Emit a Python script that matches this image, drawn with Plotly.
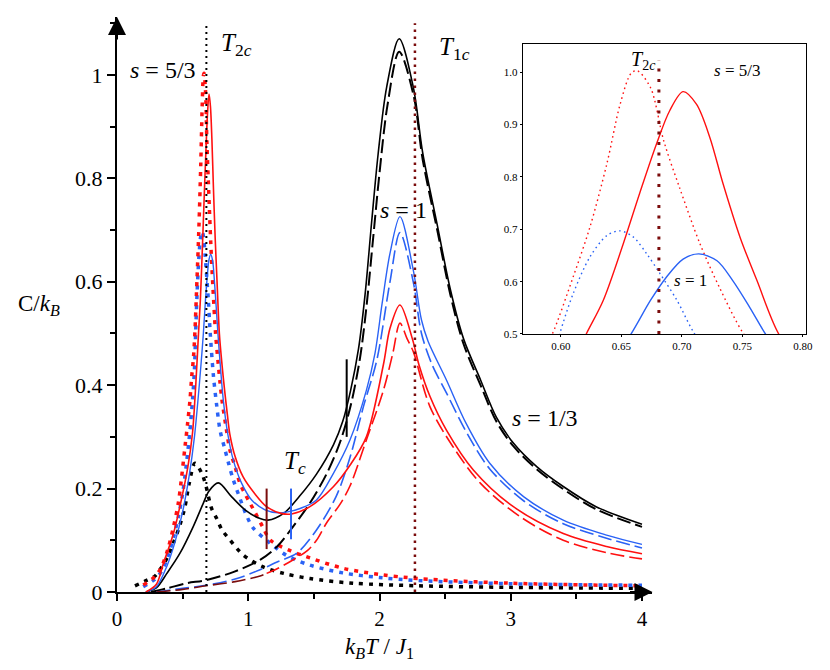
import plotly.graph_objects as go

# ---- data ----
# s = 1/3 (black)
black_solid_x = [0.22, 0.30, 0.38, 0.48, 0.58, 0.658, 0.70, 0.772, 0.874, 0.975, 1.09, 1.15, 1.27, 1.39,
                 1.52, 1.65, 1.72, 1.78, 1.84, 1.89, 1.94, 1.99, 2.055, 2.15, 2.257, 2.33, 2.44, 2.54,
                 2.64, 2.77, 2.89, 3.02, 3.20, 3.40, 3.65, 4.0]
black_solid_y = [0.0, 0.008, 0.036, 0.075, 0.126, 0.172, 0.195, 0.211, 0.184, 0.159, 0.142, 0.139, 0.152,
                 0.185, 0.228, 0.285, 0.33, 0.39, 0.47, 0.575, 0.715, 0.848, 0.977, 1.07, 0.977, 0.848,
                 0.71, 0.585, 0.49, 0.41, 0.338, 0.288, 0.242, 0.204, 0.165, 0.131]
black_dash_x = [0.26, 0.38, 0.53, 0.68, 0.89, 1.09, 1.22, 1.34, 1.47, 1.60, 1.70, 1.78, 1.85, 1.90, 1.95,
                2.00, 2.06, 2.15, 2.26, 2.33, 2.44, 2.54, 2.64, 2.77, 2.89, 3.02, 3.20, 3.40, 3.65, 4.0]
black_dash_y = [0.0, 0.007, 0.017, 0.023, 0.039, 0.062, 0.088, 0.126, 0.172, 0.23, 0.29, 0.36, 0.45, 0.55,
                0.68, 0.81, 0.94, 1.045, 0.96, 0.835, 0.70, 0.575, 0.48, 0.40, 0.33, 0.282, 0.237, 0.199,
                0.16, 0.126]
black_dot_x = [0.137, 0.213, 0.29, 0.34, 0.39, 0.43, 0.48, 0.518, 0.55, 0.594, 0.645, 0.676, 0.72, 0.76,
               0.80, 0.85, 0.96, 1.11, 1.27, 1.47, 1.80, 2.30, 3.0, 4.0]
black_dot_y = [0.012, 0.021, 0.031, 0.048, 0.07, 0.095, 0.13, 0.165, 0.21, 0.249, 0.23, 0.207, 0.162, 0.142,
               0.12, 0.104, 0.072, 0.049, 0.036, 0.026, 0.017, 0.012, 0.009, 0.007]

# s = 1 (blue)
blue_solid_x = [0.22, 0.30, 0.38, 0.44, 0.50, 0.55, 0.59, 0.62, 0.64, 0.658, 0.674, 0.687, 0.701, 0.714,
                0.729, 0.742, 0.756, 0.769, 0.785, 0.81, 0.843, 0.886, 0.95, 1.026, 1.128, 1.23, 1.30,
                1.40, 1.52, 1.65, 1.775, 1.90, 1.966, 2.02, 2.08, 2.156, 2.257, 2.32, 2.37, 2.51, 2.66,
                2.84, 3.10, 3.40, 3.73, 4.0]
blue_solid_y = [0.0, 0.01, 0.05, 0.095, 0.155, 0.225, 0.30, 0.38, 0.44, 0.50, 0.564, 0.608, 0.643, 0.653,
                0.640, 0.602, 0.551, 0.50, 0.445, 0.371, 0.307, 0.255, 0.21, 0.178, 0.159, 0.153, 0.155,
                0.162, 0.178, 0.23, 0.294, 0.39, 0.462, 0.558, 0.655, 0.726, 0.623, 0.526, 0.485, 0.41,
                0.326, 0.249, 0.184, 0.139, 0.110, 0.092]
blue_dash_x = [0.30, 0.50, 0.68, 0.90, 1.09, 1.22, 1.37, 1.52, 1.67, 1.775, 1.877, 1.98, 2.08, 2.156, 2.257,
               2.32, 2.40, 2.51, 2.66, 2.84, 3.10, 3.40, 3.73, 4.0]
blue_dash_y = [0.0, 0.007, 0.013, 0.025, 0.043, 0.058, 0.075, 0.12, 0.185, 0.26, 0.358, 0.449, 0.60, 0.695,
               0.60, 0.50, 0.44, 0.385, 0.31, 0.238, 0.176, 0.132, 0.104, 0.085]
blue_dot_x = [0.20, 0.29, 0.34, 0.39, 0.43, 0.467, 0.50, 0.53, 0.555, 0.575, 0.59, 0.599, 0.610, 0.624,
              0.638, 0.649, 0.660, 0.671, 0.682, 0.696, 0.709, 0.734, 0.76, 0.785, 0.823, 0.85, 0.886,
              0.924, 0.99, 1.04, 1.14, 1.29, 1.47, 1.72, 2.0, 2.3, 3.0, 4.0]
blue_dot_y = [0.01, 0.025, 0.04, 0.07, 0.105, 0.145, 0.19, 0.25, 0.31, 0.37, 0.43, 0.50, 0.576, 0.647,
              0.688, 0.697, 0.685, 0.653, 0.615, 0.564, 0.506, 0.42, 0.36, 0.313, 0.275, 0.249, 0.217,
              0.19, 0.146, 0.123, 0.10, 0.071, 0.052, 0.037, 0.028, 0.022, 0.016, 0.013]

# s = 5/3 (red)
red_solid_x = [0.22, 0.30, 0.353, 0.43, 0.49, 0.54, 0.575, 0.60, 0.621, 0.635, 0.6515, 0.665, 0.679, 0.690,
               0.701, 0.712, 0.723, 0.734, 0.748, 0.762, 0.780, 0.80, 0.82, 0.84, 0.86, 0.90, 0.96, 1.05,
               1.14, 1.25, 1.33, 1.47, 1.65, 1.775, 1.90, 2.03, 2.08, 2.156, 2.25, 2.30, 2.385, 2.51,
               2.715, 3.02, 3.40, 3.73, 4.0]
red_solid_y = [0.0, 0.015, 0.055, 0.113, 0.178, 0.242, 0.307, 0.40, 0.50, 0.564, 0.672, 0.768, 0.863, 0.927,
               0.963, 0.939, 0.876, 0.787, 0.685, 0.602, 0.50, 0.44, 0.39, 0.345, 0.305, 0.262, 0.223,
               0.19, 0.165, 0.152, 0.151, 0.165, 0.204, 0.245, 0.30, 0.44, 0.51, 0.555, 0.49, 0.44,
               0.378, 0.313, 0.236, 0.165, 0.113, 0.088, 0.074]
red_dash_x = [0.30, 0.50, 0.68, 0.90, 1.09, 1.14, 1.22, 1.34, 1.45, 1.52, 1.60, 1.70, 1.775, 1.90, 2.03,
              2.10, 2.156, 2.21, 2.257, 2.385, 2.56, 2.77, 3.07, 3.40, 3.73, 4.0]
red_dash_y = [0.0, 0.005, 0.012, 0.02, 0.031, 0.036, 0.045, 0.062, 0.08, 0.10, 0.135, 0.17, 0.205, 0.294,
              0.39, 0.46, 0.52, 0.49, 0.465, 0.358, 0.281, 0.21, 0.146, 0.10, 0.076, 0.064]
red_dot_x = [0.20, 0.29, 0.34, 0.39, 0.43, 0.467, 0.49, 0.518, 0.538, 0.556, 0.569, 0.583, 0.593, 0.610,
             0.624, 0.638, 0.649, 0.658, 0.663, 0.674, 0.685, 0.698, 0.715, 0.731, 0.751, 0.77, 0.785,
             0.80, 0.83, 0.86, 0.90, 0.937, 0.975, 1.013, 1.05, 1.11, 1.17, 1.32, 1.47, 1.72, 2.0, 2.3,
             3.0, 4.0]
red_dot_y = [0.0135, 0.03, 0.049, 0.085, 0.126, 0.172, 0.217, 0.281, 0.326, 0.371, 0.416, 0.455, 0.50,
             0.608, 0.704, 0.825, 0.939, 0.998, 1.003, 0.971, 0.869, 0.78, 0.672, 0.589, 0.50, 0.445,
             0.405, 0.371, 0.32, 0.275, 0.242, 0.21, 0.19, 0.172, 0.155, 0.126, 0.10, 0.08, 0.066,
             0.046, 0.034, 0.026, 0.017, 0.012]

# critical temperatures
t2c = 0.681
t1c = 2.27
tc_x = [1.14, 1.326, 1.75]
tc_lo = [0.083, 0.102, 0.30]
tc_hi = [0.20, 0.20, 0.45]

x_ticks = [0, 1, 2, 3, 4]
y_ticks = [0, 0.2, 0.4, 0.6, 0.8, 1.0]
y_ticktext = ["0", "0.2", "0.4", "0.6", "0.8", "1"]
inset_x_ticks = [0.60, 0.65, 0.70, 0.75, 0.80]
inset_y_ticks = [0.5, 0.6, 0.7, 0.8, 0.9, 1.0]

RED = "#ff1010"
BLUE = "#2a62f5"
DARKRED = "#7a0c0c"
FONT = "Liberation Serif"
DASH = "14px,5px"
DOT = "4px,6px"

fig = go.Figure()


def add_line(x, y, color, width, dash="solid", xaxis="x", yaxis="y"):
    fig.add_trace(go.Scatter(
        x=x, y=y, mode="lines", xaxis=xaxis, yaxis=yaxis,
        line=dict(color=color, width=width, dash=dash, shape="spline", smoothing=0.9),
        showlegend=False, hoverinfo="skip"
    ))


# main panel
add_line(black_dot_x, black_dot_y, "black", 3.5, DOT)
add_line(blue_dot_x, blue_dot_y, BLUE, 3.5, DOT)
add_line(red_dot_x, red_dot_y, RED, 3.5, DOT)

add_line(black_dash_x, black_dash_y, "black", 2, DASH)
add_line(blue_dash_x, blue_dash_y, BLUE, 1.6, DASH)
# red dashed is drawn dark red below its Tc
k = sum(1 for v in red_dash_x if v <= tc_x[0])
add_line(red_dash_x[:k], red_dash_y[:k], DARKRED, 1.6, DASH)
add_line(red_dash_x[k - 1:], red_dash_y[k - 1:], RED, 1.6, DASH)

add_line(black_solid_x, black_solid_y, "black", 1.6)
add_line(blue_solid_x, blue_solid_y, BLUE, 1.4)
add_line(red_solid_x, red_solid_y, RED, 1.6)

# vertical dotted lines at T2c and T1c
fig.add_trace(go.Scatter(x=[t2c, t2c], y=[0, 1.1], mode="lines", showlegend=False, hoverinfo="skip",
                         line=dict(color="black", width=2, dash="2px,4px")))
fig.add_trace(go.Scatter(x=[t1c, t1c], y=[0, 1.1], mode="lines", showlegend=False, hoverinfo="skip",
                         line=dict(color=DARKRED, width=2.5, dash="2.5px,4.5px")))

# Tc markers
for xv, lo, hi, c in zip(tc_x, tc_lo, tc_hi, [DARKRED, BLUE, "black"]):
    fig.add_trace(go.Scatter(x=[xv, xv], y=[lo, hi], mode="lines", showlegend=False, hoverinfo="skip",
                             line=dict(color=c, width=2)))

# inset panel
add_line(red_dot_x, red_dot_y, RED, 1.4, "1.6px,3.4px", "x2", "y2")
add_line(blue_dot_x, blue_dot_y, BLUE, 1.4, "1.6px,3.4px", "x2", "y2")
add_line(red_solid_x, red_solid_y, RED, 1.4, "solid", "x2", "y2")
add_line(blue_solid_x, blue_solid_y, BLUE, 1.4, "solid", "x2", "y2")
fig.add_trace(go.Scatter(x=[t2c, t2c], y=[0.5, 1.022], mode="lines", showlegend=False, hoverinfo="skip",
                         xaxis="x2", yaxis="y2",
                         line=dict(color=DARKRED, width=3, dash="3px,7.5px")))

tick_font = dict(family=FONT, size=21, color="black")
fig.update_layout(
    width=830, height=670,
    margin=dict(l=109, r=32, t=9, b=86),
    paper_bgcolor="white", plot_bgcolor="white",
    showlegend=False,
    xaxis=dict(
        domain=[0, 0.7772], range=[0, 4.08],
        showline=True, linecolor="black", linewidth=2,
        ticks="outside", ticklen=7, tickwidth=1.5, tickcolor="black",
        tickvals=x_ticks, tickfont=tick_font,
        minor=dict(ticks="outside", ticklen=5, tickwidth=1.5, tickcolor="black", dtick=0.5),
        showgrid=False, zeroline=False
    ),
    yaxis=dict(
        domain=[0, 1], range=[0, 1.112],
        showline=True, linecolor="black", linewidth=2,
        ticks="outside", ticklen=8, tickwidth=1.5, tickcolor="black",
        tickvals=y_ticks, ticktext=y_ticktext, tickfont=dict(family=FONT, size=22, color="black"),
        minor=dict(ticks="outside", ticklen=5, tickwidth=1.5, tickcolor="black", dtick=0.1),
        showgrid=False, zeroline=False
    ),
    xaxis2=dict(
        domain=[0.589, 1.0], range=[0.5686, 0.8025], anchor="y2",
        showline=True, mirror=True, linecolor="black", linewidth=1.2,
        ticks="outside", ticklen=2, tickcolor="black",
        tickvals=inset_x_ticks, tickformat=".2f",
        tickfont=dict(family=FONT, size=11, color="black"),
        showgrid=False, zeroline=False
    ),
    yaxis2=dict(
        domain=[0.4487, 0.953], range=[0.5, 1.054], anchor="x2",
        showline=True, mirror=True, linecolor="black", linewidth=1.2,
        ticks="outside", ticklen=2, tickcolor="black",
        tickvals=inset_y_ticks, tickformat=".1f",
        tickfont=dict(family=FONT, size=11, color="black"),
        showgrid=False, zeroline=False
    ),
)

# axis arrowheads
fig.add_annotation(x=0, y=1.112, xref="x", yref="y", ax=0, ay=24, text="", showarrow=True,
                   arrowhead=2, arrowsize=1.8, arrowwidth=2, arrowcolor="black")
fig.add_annotation(x=4.08, y=0, xref="x", yref="y", ax=-24, ay=0, text="", showarrow=True,
                   arrowhead=2, arrowsize=1.8, arrowwidth=2, arrowcolor="black")

s_font = dict(family=FONT, size=24, color="black")
t_font = dict(family=FONT, size=25, color="black")
inset_s = dict(family=FONT, size=17, color="black")
inset_t = dict(family=FONT, size=20, color="black")
labels = [
    ("<i>s</i> = 5/3", 0.35, 1.01, "center", "x", "y", s_font),
    ("<i>T</i><sub>2<i>c</i></sub>", 0.78, 1.058, "left", "x", "y", t_font),
    ("<i>T</i><sub>1<i>c</i></sub>", 2.44, 1.052, "left", "x", "y", t_font),
    ("<i>s</i> = 1", 2.18, 0.739, "center", "x", "y", s_font),
    ("<i>s</i> = 1/3", 3.26, 0.337, "center", "x", "y", s_font),
    ("<i>T</i><sub><i>c</i></sub>", 1.26, 0.25, "left", "x", "y", t_font),
    ("<i>T</i><sub>2<i>c</i></sub>", 0.668, 1.023, "center", "x2", "y2", inset_t),
    ("<i>s</i> = 5/3", 0.7455, 1.0025, "center", "x2", "y2", inset_s),
    ("<i>s</i> = 1", 0.7075, 0.603, "center", "x2", "y2", inset_s),
]
for txt, xv, yv, anc, xr, yr, f in labels:
    fig.add_annotation(x=xv, y=yv, xref=xr, yref=yr, text=txt, showarrow=False,
                       xanchor=anc, yanchor="middle", font=f)

# axis titles
title_font = dict(family=FONT, size=23, color="black")
fig.add_annotation(x=-0.113, y=0.499, xref="paper", yref="paper", showarrow=False,
                   text="C/<i>k</i><sub><i>B</i></sub>", font=title_font, xanchor="center", yanchor="middle")
fig.add_annotation(x=0.3817, y=-0.097, xref="paper", yref="paper", showarrow=False,
                   text="<i>k</i><sub><i>B</i></sub><i>T</i> / <i>J</i><sub>1</sub>", font=title_font,
                   xanchor="center", yanchor="middle")

fig.write_html("out.html")
